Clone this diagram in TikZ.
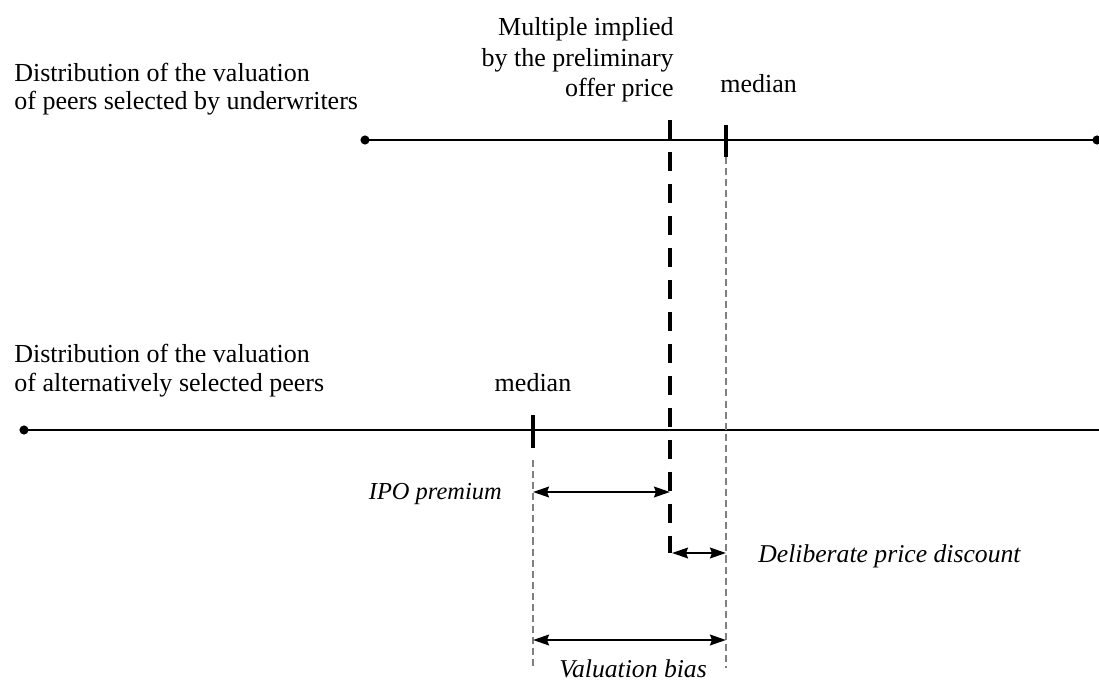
\documentclass[tikz,border=0pt]{standalone}
\usepackage{fontspec}
\setmainfont{Liberation Serif}
\usetikzlibrary{arrows.meta}

\begin{document}
\begin{tikzpicture}[x=0.02cm, y=-0.02cm,
	axisline/.style={line width=0.85pt},
	endpt/.style={circle, fill, inner sep=0pt, minimum size=5.2pt},
	medtick/.style={line width=2pt},
	guide/.style={line width=0.6pt, gray, dash pattern=on 4pt off 2.3pt},
	gap/.style={line width=1.5pt, {Stealth[length=9pt,width=6pt,inset=1pt]}-{Stealth[length=9pt,width=6pt,inset=1pt]}},
	lbl/.style={inner sep=0pt, font=\fontsize{14.8}{16.5}\selectfont},
	itlbl/.style={inner sep=0pt, font=\fontsize{14.6}{16}\selectfont\itshape}]
		\useasboundingbox (0,0) rectangle (1099,686);
		
		% Key points on the two distributions
		\coordinate (tl) at (365,140);
		\coordinate (tr) at (1097,140);
		\coordinate (bl) at (24,430);
		\coordinate (br) at (1099,430);
		\coordinate (mtop) at (670,120);
		\coordinate (mbot) at (670,553);
		
		% Draw the two valuation lines
		\draw[axisline] (tl) -- (tr);
		\draw[axisline] (bl) -- (br);
		\node[endpt] (tldot) at (tl) {};
		\node[endpt] (trdot) at (tr) {};
		\node[endpt] (bldot) at (bl) {};
		
		% Median ticks
		\draw[medtick] (726,125) coordinate (tmedup) -- (726,157) coordinate (tmeddn);
		\draw[medtick] (533,415) coordinate (bmedup) -- (533,448) coordinate (bmeddn);
		
		% Multiple implied by the preliminary offer price
		\draw[line width=2.3pt, dash pattern=on 10.8pt off 7.4pt] (mtop) -- (mbot);
		
		% Thin guides below the medians
		\draw[guide] (533,460) coordinate (bguide) -- (533,668);
		\draw[guide] (tmeddn) -- (726,668);
		
		% Arrows for premium, discount and bias
		\draw[gap] (533,492) coordinate (pa) -- (670,492) coordinate (pb);
		\draw[gap] (672,553) coordinate (da) -- (726,553) coordinate (db);
		\draw[gap] (533,640) coordinate (va) -- (726,640) coordinate (vb);
		
		% Labels
		\node[lbl, anchor=base west, align=left] (toplbl) at (14,110) {Distribution of the valuation\\of peers selected by underwriters};
		\node[lbl, anchor=base west, align=left] (botlbl) at (14,391) {Distribution of the valuation\\of alternatively selected peers};
		\node[lbl, anchor=base east, align=right, font=\fontsize{14.8}{17.6}\selectfont] (multlbl) at (674,97) {Multiple implied\\by the preliminary\\offer price};
		\node[lbl, anchor=base west] (tmedlbl) at (720,92) {median};
		\node[lbl, anchor=base] (bmedlbl) at (533,391) {median};
		\node[itlbl, anchor=base east, font=\fontsize{13.9}{16}\selectfont\itshape] (premlbl) at (502,499) {IPO premium};
		\node[itlbl, anchor=base west] (disclbl) at (758,562) {Deliberate price discount};
		\node[itlbl, anchor=base] (biaslbl) at (633,677) {Valuation bias};
	\end{tikzpicture}
\end{document}
